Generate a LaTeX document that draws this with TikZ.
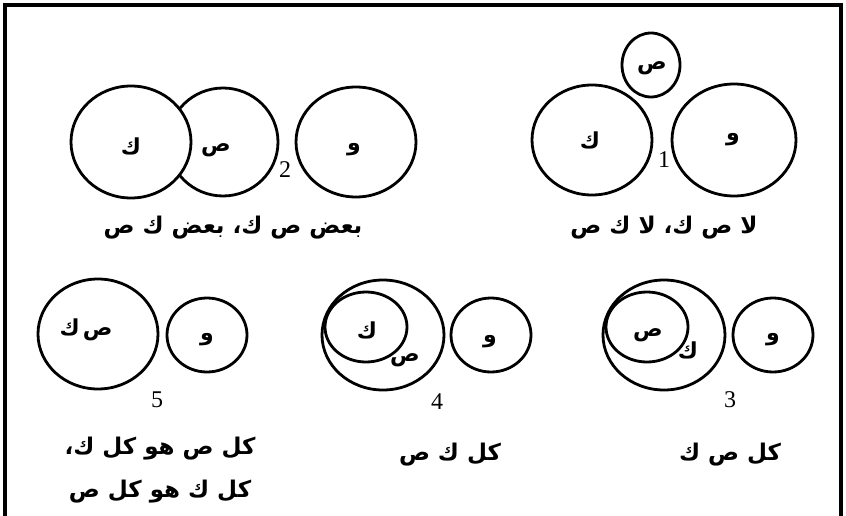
\documentclass[tikz,border=0pt]{standalone}
\usepackage{fontspec}
\usetikzlibrary{shapes.geometric}
\newfontfamily\arabicfont[Script=Arabic]{DejaVu Sans}
\newfontfamily\numfont{Liberation Serif}
\TeXXeTstate=1

\begin{document}
\begin{tikzpicture}[x=1pt,y=-1pt,
    termset/.style={draw,ellipse,line width=2.8pt,inner sep=0pt},
    termlbl/.style={font=\arabicfont\bfseries\fontsize{22}{24}\selectfont},
    captext/.style={font=\arabicfont\bfseries\fontsize{23}{43}\selectfont,align=center},
    casenum/.style={font=\numfont\fontsize{24}{28}\selectfont}]
    \useasboundingbox (0,0) rectangle (846,516);
    \draw[line width=3.5pt] (5,516) -- (5,5) -- (841,5) -- (841,516);
    % 1
    \node[termset,minimum width=120,minimum height=110] (k1) at (592,140) {};
    \node[termset,minimum width=124,minimum height=112] (w1) at (734,140) {};
    \node[termset,minimum width=58,minimum height=64] (s1) at (651,65) {};
    \node[termlbl] (k1l) at (590,140) {\beginR ك\endR};
    \node[termlbl] (w1l) at (733,140) {\beginR و\endR};
    \node[termlbl] (s1l) at (652,68) {\beginR ص\endR};
    \node[casenum] (n1) at (664,160) {1};
    \node[captext] (c1) at (664,228) {\beginR لا ص ك، لا ك ص\endR};
    % 2
    \node[termset,minimum width=110,minimum height=108] (s2) at (223,142) {};
    \node[termset,fill=white,minimum width=120,minimum height=112] (k2) at (131,142) {};
    \node[termset,minimum width=120,minimum height=110] (w2) at (356,142) {};
    \node[termlbl] (k2l) at (131,146) {\beginR ك\endR};
    \node[termlbl] (s2l) at (216,150) {\beginR ص\endR};
    \node[termlbl] (w2l) at (354,150) {\beginR و\endR};
    \node[casenum] (n2) at (285,170) {2};
    \node[captext] (c2) at (233,228) {\beginR بعض ص ك، بعض ك ص\endR};
    % 3
    \node[termset,minimum width=122,minimum height=110] (o3) at (664,335) {};
    \node[termset,minimum width=82,minimum height=70] (i3) at (647,327) {};
    \node[termset,minimum width=80,minimum height=74] (w3) at (773,335) {};
    \node[termlbl] (i3l) at (648,335) {\beginR ص\endR};
    \node[termlbl] (o3l) at (688,350) {\beginR ك\endR};
    \node[termlbl] (w3l) at (773,340) {\beginR و\endR};
    \node[casenum] (n3) at (730,400) {3};
    \node[captext] (c3) at (730,455) {\beginR كل ص ك\endR};
    % 4
    \node[termset,minimum width=122,minimum height=110] (o4) at (383,335) {};
    \node[termset,minimum width=82,minimum height=70] (i4) at (366,327) {};
    \node[termset,minimum width=80,minimum height=74] (w4) at (491,335) {};
    \node[termlbl] (i4l) at (367,330) {\beginR ك\endR};
    \node[termlbl] (o4l) at (405,360) {\beginR ص\endR};
    \node[termlbl] (w4l) at (490,342) {\beginR و\endR};
    \node[casenum] (n4) at (437,402) {4};
    \node[captext] (c4) at (450,455) {\beginR كل ك ص\endR};
    % 5
    \node[termset,minimum width=120,minimum height=110] (a5) at (98,334) {};
    \node[termset,minimum width=80,minimum height=74] (w5) at (207,335) {};
    \node[termlbl] (a5l) at (86,330) {\beginR ص\hspace{3pt}ك\endR};
    \node[termlbl] (w5l) at (207,340) {\beginR و\endR};
    \node[casenum] (n5) at (157,400) {5};
    \node[captext] (c5) at (160,470) {\beginR كل ص هو كل ك،\endR\\\beginR كل ك هو كل ص\endR};
\end{tikzpicture}
\end{document}
